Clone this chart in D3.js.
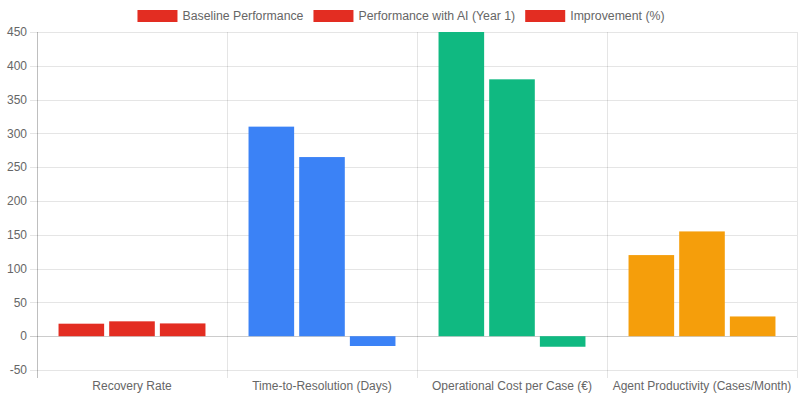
<!DOCTYPE html>
<html>
<head>
<meta charset="utf-8">
<script src="https://cdn.jsdelivr.net/npm/d3@7"></script>
<style>
  body { margin: 0; background: #fff; }
  text { font-family: "Liberation Sans", Arial, Helvetica, sans-serif; }
</style>
</head>
<body>
<div id="mainDiv"></div>
<script>
var categories = ["Recovery Rate", "Time-to-Resolution (Days)", "Operational Cost per Case (€)", "Agent Productivity (Cases/Month)"];
var seriesNames = ["Baseline Performance", "Performance with AI (Year 1)", "Improvement (%)"];
var baseline = [18.5, 310, 450, 120];
var withAI = [22, 265, 380, 155];
var improvement = [18.9, -14.5, -15.6, 29.2];
var yTicks = [-50, 0, 50, 100, 150, 200, 250, 300, 350, 400, 450];
var categoryColors = ["#e32d22", "#3b82f6", "#10b981", "#f59e0b"];

var series = [baseline, withAI, improvement];

var width = 800, height = 400;
var plotLeft = 37, plotRight = 797, plotTop = 32, plotBottom = 370;

var mySvg = d3.select("#mainDiv").append("svg")
              .attr("width", width)
              .attr("height", height);

var x = d3.scaleBand().domain(categories).range([plotLeft, plotRight]).paddingInner(0).paddingOuter(0);
var inner = d3.scaleBand().domain(d3.range(series.length))
              .range([x.bandwidth() * 0.1, x.bandwidth() * 0.9]);
var y = d3.scaleLinear().domain([-50, 450]).range([plotBottom, plotTop]);

// horizontal grid
mySvg.append("g").selectAll("line")
     .data(yTicks)
     .join("line")
     .attr("x1", plotLeft - 7)
     .attr("x2", plotRight)
     .attr("y1", d => Math.round(y(d)) + 0.5)
     .attr("y2", d => Math.round(y(d)) + 0.5)
     .attr("stroke", d => d === 0 ? "rgba(0,0,0,0.2)" : "rgba(0,0,0,0.1)");

// vertical grid
var xEdges = categories.map(c => x(c)).concat([plotRight]);
mySvg.append("g").selectAll("line")
     .data(xEdges)
     .join("line")
     .attr("x1", d => Math.round(d) + 0.5)
     .attr("x2", d => Math.round(d) + 0.5)
     .attr("y1", plotTop)
     .attr("y2", plotBottom + 8)
     .attr("stroke", (d, i) => i === 0 ? "rgba(0,0,0,0.25)" : "rgba(0,0,0,0.1)");

// y tick labels
mySvg.append("g").selectAll("text")
     .data(yTicks)
     .join("text")
     .attr("x", 27)
     .attr("y", d => y(d))
     .attr("dy", "0.35em")
     .attr("text-anchor", "end")
     .attr("font-size", 12)
     .attr("fill", "#666")
     .text(d => d);

// x labels
mySvg.append("g").selectAll("text")
     .data(categories)
     .join("text")
     .attr("x", d => x(d) + x.bandwidth() / 2)
     .attr("y", 390)
     .attr("text-anchor", "middle")
     .attr("font-size", 12)
     .attr("fill", "#666")
     .text(d => d);

// bars
var barW = inner.bandwidth() * 0.9;
series.forEach(function(vals, s) {
    mySvg.append("g").selectAll("rect")
         .data(vals)
         .join("rect")
         .attr("x", (d, i) => x(categories[i]) + inner(s) + (inner.bandwidth() - barW) / 2)
         .attr("y", d => y(Math.max(0, d)))
         .attr("width", barW)
         .attr("height", d => Math.abs(y(d) - y(0)))
         .attr("fill", (d, i) => categoryColors[i]);
});

// legend, laid out from measured text widths
var legend = mySvg.append("g").attr("transform", "translate(0,10)");
var items = [];
var lx = 0;
seriesNames.forEach(function(name) {
    var g = legend.append("g").attr("transform", "translate(" + lx + ",0)");
    g.append("rect")
     .attr("width", 40)
     .attr("height", 12)
     .attr("fill", categoryColors[0]);
    var t = g.append("text")
     .attr("x", 45)
     .attr("y", 6)
     .attr("dy", "0.35em")
     .attr("font-size", 12.3)
     .attr("fill", "#666")
     .text(name);
    lx += 45 + t.node().getComputedTextLength() + 10;
});
var totalW = lx - 10;
legend.attr("transform", "translate(" + ((width - totalW) / 2 + 1) + ",10)");
</script>
</body>
</html>
